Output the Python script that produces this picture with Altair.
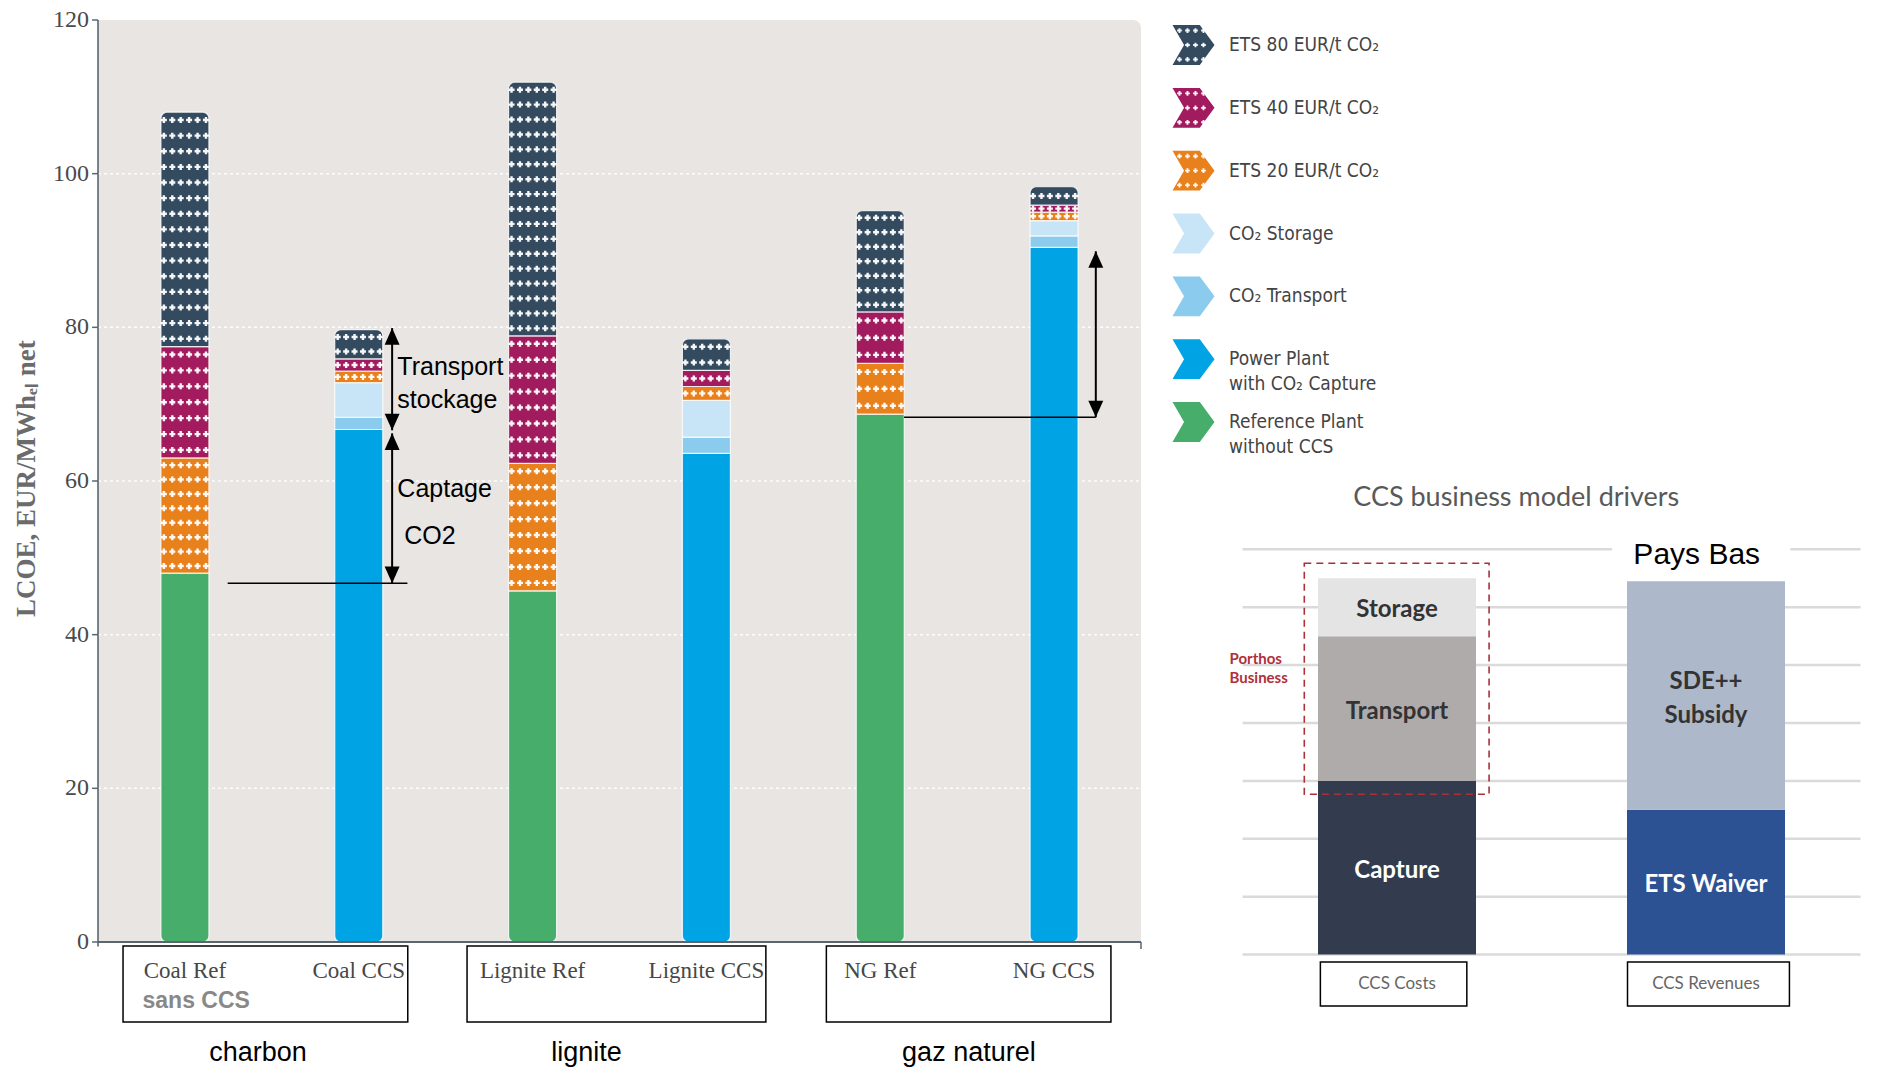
import altair as alt
import pandas as pd

# ---------------------------------------------------------------------------
# LCOE build-up per plant type (EUR/MWh_el net)
# ---------------------------------------------------------------------------
plants = ["Coal Ref", "Coal CCS", "Lignite Ref", "Lignite CCS", "NG Ref", "NG CCS"]
reference_plant = [48.0, 0.0, 45.7, 0.0, 68.7, 0.0]
capture_plant = [0.0, 66.7, 0.0, 63.6, 0.0, 90.4]
co2_transport = [0.0, 1.6, 0.0, 2.1, 0.0, 1.5]
co2_storage = [0.0, 4.5, 0.0, 4.8, 0.0, 2.0]
ets_20 = [15.0, 1.5, 16.6, 1.8, 6.6, 1.1]
ets_40 = [14.5, 1.6, 16.6, 2.1, 6.7, 0.9]
ets_80 = [30.5, 3.8, 33.0, 4.1, 13.2, 2.4]

fuel_groups = ["charbon", "lignite", "gaz naturel"]

# stacking order, bottom -> top
component_names = [
    "Reference Plant without CCS", "Power Plant with CO₂ Capture", "CO₂ Transport",
    "CO₂ Storage", "ETS 20 EUR/t CO₂", "ETS 40 EUR/t CO₂", "ETS 80 EUR/t CO₂",
]
legend_labels = [
    "Reference Plant\nwithout CCS", "Power Plant\nwith CO₂ Capture", "CO₂ Transport",
    "CO₂ Storage", "ETS 20 EUR/t CO₂", "ETS 40 EUR/t CO₂", "ETS 80 EUR/t CO₂",
]
component_series = [reference_plant, capture_plant, co2_transport, co2_storage, ets_20, ets_40, ets_80]

y_ticks = [0, 20, 40, 60, 80, 100, 120]
y_title = "LCOE, EUR/MWhₑₗ net"

# ---------------------------------------------------------------------------
# CCS business model drivers (relative units)
# ---------------------------------------------------------------------------
ccs_columns = ["CCS Costs", "CCS Revenues"]
cost_parts = ["Capture", "Transport", "Storage"]
cost_values = [3.0, 2.5, 1.0]
revenue_parts = ["ETS Waiver", "SDE++\nSubsidy"]
revenue_values = [2.5, 3.95]

# ---------------------------------------------------------------------------
# styling
# ---------------------------------------------------------------------------
component_colors = ["#46AD6B", "#00A3E4", "#8ACBEE", "#C8E5F7", "#E8801C", "#A11B5E", "#334A5F"]
component_dotted = [False, False, False, False, True, True, True]
cost_colors = ["#323C4E", "#AEABAA", "#E4E4E4"]
cost_text_colors = ["#FFFFFF", "#333333", "#333333"]
revenue_colors = ["#2D5294", "#ADB8CA"]
revenue_text_colors = ["#FFFFFF", "#333333"]

SERIF = "Liberation Serif"
SANS = "Liberation Sans"
NARROW = "DejaVu Sans Condensed, DejaVu Sans"
CALIBRI_LIKE = "Lato"
AXIS_GREY = "#5A6670"

# left panel scales (pixel ranges on a single 1877 x 1071 canvas)
X_L = alt.Scale(domain=[-0.5, 5.5], range=[93, 1146], nice=False, zero=False)
Y_L = alt.Scale(domain=[0, 120], range=[942, 20], nice=False, zero=False)
PX_PER_X = 175.5          # pixels per category step on the left panel
BAR_PX = 48
DOT_COLUMNS = [-2.5, -1.5, -0.5, 0.5, 1.5, 2.5]
DOT_PITCH_X = 0.0484
DOT_PITCH_Y = 2.0

# legend scales
X_G = alt.Scale(domain=[0, 1], range=[1172, 1215], nice=False, zero=False)
Y_G = alt.Scale(domain=[0, 6], range=[45, 422], nice=False, zero=False)
CHEVRON = "M-1,-0.95 L0.3,-0.95 L1,0 L0.3,0.95 L-1,0.95 L-0.45,0 Z"
LEGEND_DOT_COLS = [-1.5, -0.5, 0.5, 1.5]
LEGEND_DOT_ROWS = [-1, 0, 1]

# right panel scales
X_R = alt.Scale(domain=[0, 1], range=[1392, 1711], nice=False, zero=False)
Y_R = alt.Scale(domain=[0, 7], range=[954.6, 549.3], nice=False, zero=False)

ARROW_UP = "M0,0 L-0.45,1 L0.45,1 Z"
ARROW_DOWN = "M0,0 L-0.45,-1 L0.45,-1 Z"

# ---------------------------------------------------------------------------
# tables
# ---------------------------------------------------------------------------
rows = []
for order, (name, color, dotted, vals) in enumerate(
        zip(component_names, component_colors, component_dotted, component_series)):
    for idx, (plant, v) in enumerate(zip(plants, vals)):
        if v > 0:
            rows.append(dict(plant=plant, idx=idx, component=name, order=order,
                             value=v, color=color, dotted=dotted))
bars_df = pd.DataFrame(rows)

legend_df = pd.DataFrame({
    "pos": list(range(len(legend_labels))),
    "label": legend_labels[::-1],
    "color": component_colors[::-1],
    "dotted": component_dotted[::-1],
    "cx": 0.5,
    "tx": 1.326,
})

right_rows = []
for order, (p, v, c, t) in enumerate(zip(cost_parts, cost_values, cost_colors, cost_text_colors)):
    right_rows.append(dict(col=0, part=p, value=v, order=order, color=c, tcolor=t))
for order, (p, v, c, t) in enumerate(zip(revenue_parts, revenue_values, revenue_colors, revenue_text_colors)):
    right_rows.append(dict(col=1, part=p, value=v, order=order, color=c, tcolor=t))
right_df = pd.DataFrame(right_rows)


def lx(field):
    return alt.X(field, scale=X_L, axis=None)


def ly(field):
    return alt.Y(field, scale=Y_L, axis=None)


# ---------------------------------------------------------------------------
# left panel: stacked LCOE bars
# ---------------------------------------------------------------------------
plot_bg = alt.Chart(pd.DataFrame({"x0": [-0.5], "x1": [5.5], "y0": [0], "y1": [120]})).mark_rect(
    color="#E9E5E2", cornerRadiusTopRight=8
).encode(x=lx("x0:Q"), x2="x1:Q", y=ly("y0:Q"), y2="y1:Q")

grid_df = pd.DataFrame({"v": y_ticks[1:-1], "x0": -0.5, "x1": 5.5})
grid = alt.Chart(grid_df).mark_rule(color="white", strokeWidth=1.5, strokeDash=[3, 3], opacity=0.9).encode(
    x=lx("x0:Q"), x2="x1:Q", y=ly("v:Q")
)

# y axis drawn from the tick list
axis_df = pd.DataFrame({
    "v": y_ticks,
    "x_axis": -0.5,
    "x_tick": -0.5 - 6 / PX_PER_X,
    "x_label": -0.5 - 9 / PX_PER_X,
})
axis_line = alt.Chart(pd.DataFrame({"x": [-0.5], "v0": [-0.6], "v1": [120]})).mark_rule(
    color=AXIS_GREY, strokeWidth=1.6
).encode(x=lx("x:Q"), y=ly("v0:Q"), y2="v1:Q")
axis_ticks = alt.Chart(axis_df).mark_rule(color=AXIS_GREY, strokeWidth=1.5).encode(
    x=lx("x_tick:Q"), x2="x_axis:Q", y=ly("v:Q")
)
axis_labels = alt.Chart(axis_df).mark_text(
    font=SERIF, fontSize=24, color="#4A4A4A", align="right", baseline="middle"
).encode(x=lx("x_label:Q"), y=ly("v:Q"), text="v:Q")
axis_title = alt.Chart(pd.DataFrame({"t": [y_title], "x": [-0.907], "v": [60.3]})).mark_text(
    font=SERIF, fontSize=27, fontWeight="bold", color="#6B6B6B", angle=270,
    align="center", baseline="middle",
).encode(x=lx("x:Q"), y=ly("v:Q"), text="t:N")

stacked = alt.Chart(bars_df).transform_stack(
    stack="value", groupby=["plant"], as_=["y0", "y1"],
    sort=[alt.SortField(field="order", order="ascending")],
).transform_joinaggregate(
    top_order="max(order)", bottom_order="min(order)", groupby=["plant"]
)

bar_enc = dict(
    x=lx("idx:Q"), y=ly("y0:Q"), y2="y1:Q",
    color=alt.Color("color:N", scale=None),
)
bars_bottom = stacked.transform_filter("datum.order == datum.bottom_order").mark_bar(
    size=BAR_PX, cornerRadiusBottomLeft=6, cornerRadiusBottomRight=6,
    stroke="white", strokeWidth=1.2, strokeOpacity=0.8,
).encode(**bar_enc)
bars_top = stacked.transform_filter("datum.order == datum.top_order").mark_bar(
    size=BAR_PX, cornerRadiusTopLeft=6, cornerRadiusTopRight=6,
    stroke="white", strokeWidth=1.2, strokeOpacity=0.8,
).encode(**bar_enc)
bars_mid = stacked.transform_filter(
    "datum.order != datum.top_order && datum.order != datum.bottom_order"
).mark_bar(size=BAR_PX, stroke="white", strokeWidth=1.2, strokeOpacity=0.8).encode(**bar_enc)

# white "+" texture on the ETS segments
dots = stacked.transform_filter("datum.dotted").transform_calculate(
    nrows=f"max(1, round((datum.y1 - datum.y0) / {DOT_PITCH_Y}))"
).transform_calculate(
    dot_row="sequence(0, datum.nrows)", dot_col=str(DOT_COLUMNS)
).transform_flatten(["dot_row"]).transform_flatten(["dot_col"]).transform_calculate(
    dot_y="datum.y0 + (datum.dot_row + 0.5) * (datum.y1 - datum.y0) / datum.nrows",
    dot_x=f"datum.idx + datum.dot_col * {DOT_PITCH_X}",
).mark_point(shape="cross", filled=True, color="white", size=36, opacity=0.95).encode(
    x=lx("dot_x:Q"), y=ly("dot_y:Q")
)

baseline = alt.Chart(pd.DataFrame({"x0": [-0.5], "x1": [5.5], "v": [0]})).mark_rule(
    color=AXIS_GREY, strokeWidth=2
).encode(x=lx("x0:Q"), x2="x1:Q", y=ly("v:Q"))
end_tick = alt.Chart(pd.DataFrame({"x": [5.5], "v0": [0], "v1": [-0.9]})).mark_rule(
    color=AXIS_GREY, strokeWidth=1.5
).encode(x=lx("x:Q"), y=ly("v0:Q"), y2="v1:Q")

# category labels, group boxes and group names below the axis
cat_df = pd.DataFrame({"idx": list(range(len(plants))), "name": plants, "v": -3.8})
cat_labels = alt.Chart(cat_df).mark_text(
    font=SERIF, fontSize=23, color="#474747", baseline="middle"
).encode(x=lx("idx:Q"), y=ly("v:Q"), text="name:N")

sub_df = pd.DataFrame({"x": [0.065], "v": [-7.7], "t": ["sans CCS"]})
sub_label = alt.Chart(sub_df).mark_text(
    font=SANS, fontSize=23, fontWeight="bold", color="#888888", baseline="middle"
).encode(x=lx("x:Q"), y=ly("v:Q"), text="t:N")

group_df = pd.DataFrame({
    "name": fuel_groups,
    "left": [-0.356, 1.623, 3.69],
    "right": [1.282, 3.342, 5.327],
    "label_x": [0.42, 2.31, 4.51],
    "top": -0.52, "bottom": -10.41, "label_v": -14.45,
})
group_boxes = alt.Chart(group_df).mark_rect(fillOpacity=0, stroke="black", strokeWidth=1.5).encode(
    x=lx("left:Q"), x2="right:Q", y=ly("top:Q"), y2="bottom:Q"
)
group_labels = alt.Chart(group_df).mark_text(font=SANS, fontSize=27, color="black", baseline="middle").encode(
    x=lx("label_x:Q"), y=ly("label_v:Q"), text="name:N"
)

# annotations: capture / transport-storage spans
span_df = pd.DataFrame({
    "x": [1.192, 1.192, 5.24],
    "lo": [66.6, 46.7, 68.3],
    "hi": [79.9, 66.2, 89.9],
})
spans = alt.Chart(span_df).mark_rule(color="black", strokeWidth=2).encode(
    x=lx("x:Q"), y=ly("lo:Q"), y2="hi:Q"
)
heads_up = alt.Chart(span_df).mark_point(shape=ARROW_UP, filled=True, color="black", size=1100, opacity=1).encode(
    x=lx("x:Q"), y=ly("hi:Q")
)
heads_down = alt.Chart(span_df).mark_point(shape=ARROW_DOWN, filled=True, color="black", size=1100, opacity=1).encode(
    x=lx("x:Q"), y=ly("lo:Q")
)
level_df = pd.DataFrame({"x0": [0.246, 4.137], "x1": [1.28, 5.24], "v": [46.7, 68.3]})
levels = alt.Chart(level_df).mark_rule(color="black", strokeWidth=1.6).encode(
    x=lx("x0:Q"), x2="x1:Q", y=ly("v:Q")
)
note_df = pd.DataFrame({
    "t": ["Transport", "stockage", "Captage", "CO2"],
    "x": [1.222, 1.222, 1.222, 1.262],
    "v": [74.8, 70.6, 59.0, 52.8],
})
notes = alt.Chart(note_df).mark_text(font=SANS, fontSize=25, color="black", align="left", baseline="middle").encode(
    x=lx("x:Q"), y=ly("v:Q"), text="t:N"
)

left = alt.layer(
    plot_bg, grid, bars_bottom, bars_mid, bars_top, dots, baseline, end_tick,
    axis_line, axis_ticks, axis_labels, axis_title,
    cat_labels, sub_label, group_boxes, group_labels, levels, spans, heads_up, heads_down, notes,
)

# ---------------------------------------------------------------------------
# legend with chevron keys
# ---------------------------------------------------------------------------
chevrons = alt.Chart(legend_df).mark_point(shape=CHEVRON, filled=True, size=1764, opacity=1).encode(
    x=alt.X("cx:Q", scale=X_G, axis=None),
    y=alt.Y("pos:Q", scale=Y_G, axis=None),
    color=alt.Color("color:N", scale=None),
)
chevron_dots = alt.Chart(legend_df).transform_filter("datum.dotted").transform_calculate(
    dcol=str(LEGEND_DOT_COLS), drow=str(LEGEND_DOT_ROWS)
).transform_flatten(["dcol"]).transform_flatten(["drow"]).transform_calculate(
    dx="datum.cx - 0.047 + datum.dcol * 0.186", dy="datum.pos + datum.drow * 0.23"
).mark_point(shape="cross", filled=True, color="white", size=22, opacity=0.95).encode(
    x=alt.X("dx:Q", scale=X_G, axis=None), y=alt.Y("dy:Q", scale=Y_G, axis=None)
)
legend_text = alt.Chart(legend_df).mark_text(
    font=NARROW, fontSize=19, color="#444444", align="left", baseline="middle",
    lineBreak="\n", lineHeight=25,
).encode(x=alt.X("tx:Q", scale=X_G, axis=None), y=alt.Y("pos:Q", scale=Y_G, axis=None), text="label:N")

legend = alt.layer(chevrons, chevron_dots, legend_text)

# ---------------------------------------------------------------------------
# right panel: CCS business model drivers
# ---------------------------------------------------------------------------
def rx(field):
    return alt.X(field, scale=X_R, axis=None)


def ry(field):
    return alt.Y(field, scale=Y_R, axis=None)


r_grid_df = pd.DataFrame({"v": list(range(8)), "x0": -0.5, "x1": 1.5})
r_grid = alt.Chart(r_grid_df).mark_rule(color="#DADADA", strokeWidth=2.5).encode(
    x=rx("x0:Q"), x2="x1:Q", y=ry("v:Q")
)
r_stacked = alt.Chart(right_df).transform_stack(
    stack="value", groupby=["col"], as_=["y0", "y1"],
    sort=[alt.SortField(field="order", order="ascending")],
).transform_calculate(mid="(datum.y0 + datum.y1) / 2")
r_bars = r_stacked.mark_bar(size=158).encode(
    x=rx("col:Q"), y=ry("y0:Q"), y2="y1:Q",
    color=alt.Color("color:N", scale=None),
)
label_enc = dict(
    x=rx("col:Q"), y=ry("mid:Q"), text="part:N",
    color=alt.Color("tcolor:N", scale=None),
)
r_labels_single = r_stacked.transform_filter("indexof(datum.part, '\\n') < 0").mark_text(
    font=CALIBRI_LIKE, fontSize=24, fontWeight="bold", baseline="middle", dy=3
).encode(**label_enc)
r_labels_multi = r_stacked.transform_filter("indexof(datum.part, '\\n') >= 0").mark_text(
    font=CALIBRI_LIKE, fontSize=24, fontWeight="bold", baseline="middle",
    lineBreak="\n", lineHeight=34, dy=-13,
).encode(**label_enc)

porthos_box = alt.Chart(pd.DataFrame({"x0": [-0.30], "x1": [0.298], "v0": [2.77], "v1": [6.76]})).mark_rect(
    fillOpacity=0, stroke="#A8323A", strokeWidth=1.6, strokeDash=[7, 5]
).encode(x=rx("x0:Q"), x2="x1:Q", y=ry("v0:Q"), y2="v1:Q")
porthos_text = alt.Chart(pd.DataFrame({"t": ["Porthos", "Business"], "x": -0.542, "v": [5.1, 4.77]})).mark_text(
    font=CALIBRI_LIKE, fontSize=15, fontWeight="bold", color="#B0303A", align="left", baseline="middle"
).encode(x=rx("x:Q"), y=ry("v:Q"), text="t:N")

pays_bg = alt.Chart(pd.DataFrame({"x0": [0.696], "x1": [1.273], "v0": [6.82], "v1": [7.18]})).mark_rect(
    color="white"
).encode(x=rx("x0:Q"), x2="x1:Q", y=ry("v0:Q"), y2="v1:Q")
pays_text = alt.Chart(pd.DataFrame({"t": ["Pays Bas"], "x": [0.97], "v": [6.91]})).mark_text(
    font=SANS, fontSize=30, color="black", baseline="middle"
).encode(x=rx("x:Q"), y=ry("v:Q"), text="t:N")
r_title = alt.Chart(pd.DataFrame({"t": ["CCS business model drivers"], "x": [0.386], "v": [7.89]})).mark_text(
    font=CALIBRI_LIKE, fontSize=27, color="#595959", baseline="middle"
).encode(x=rx("x:Q"), y=ry("v:Q"), text="t:N")

col_df = pd.DataFrame({
    "name": ccs_columns, "col": [0, 1],
    "left": [-0.248, 0.746], "right": [0.226, 1.270],
    "top": -0.128, "bottom": -0.888, "label_v": -0.5,
})
col_boxes = alt.Chart(col_df).mark_rect(fillOpacity=0, stroke="black", strokeWidth=1.5).encode(
    x=rx("left:Q"), x2="right:Q", y=ry("top:Q"), y2="bottom:Q"
)
col_labels = alt.Chart(col_df).mark_text(font=CALIBRI_LIKE, fontSize=17, color="#666666", baseline="middle").encode(
    x=rx("col:Q"), y=ry("label_v:Q"), text="name:N"
)

right = alt.layer(r_grid, pays_bg, r_bars, r_labels_single, r_labels_multi, porthos_box, porthos_text,
                  pays_text, r_title, col_boxes, col_labels)

chart = alt.layer(left, legend, right).resolve_scale(
    x="independent", y="independent"
).properties(
    width=1877, height=1071, padding=0, autosize="none", background="white"
).configure_view(stroke=None)

chart.save("out.html", embed_options={"renderer": "svg", "actions": False})
